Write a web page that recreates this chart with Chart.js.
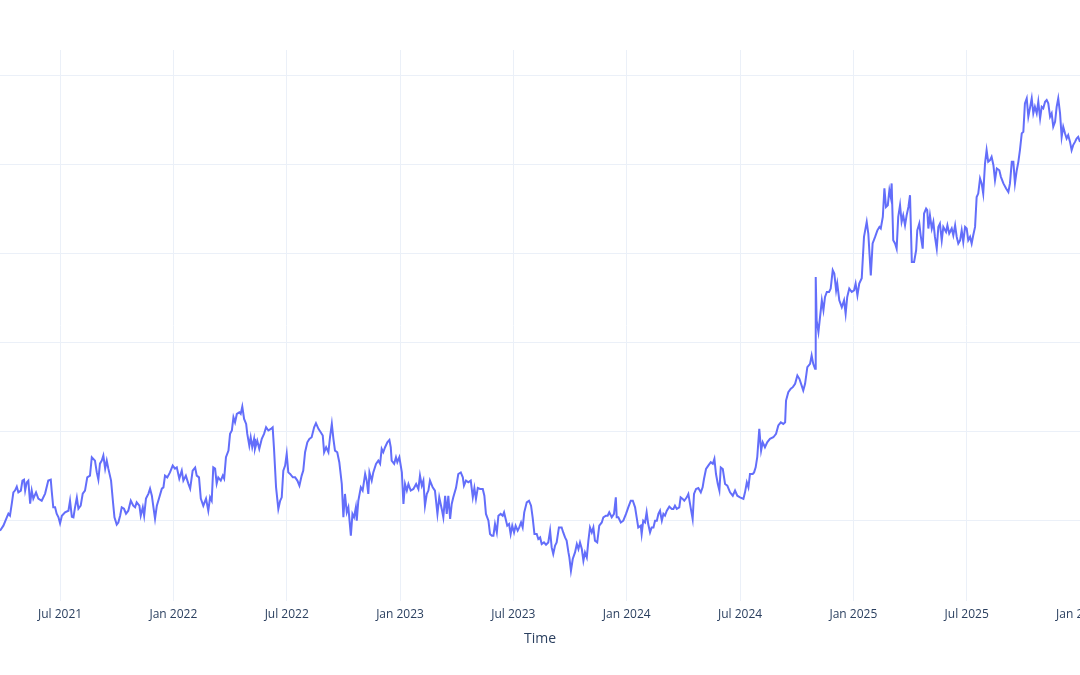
<!DOCTYPE html>
<html>
<head>
<meta charset="utf-8">
<script src="https://cdn.jsdelivr.net/npm/chart.js@4"></script>
<style>
    html, body { margin: 0; padding: 0; background: #ffffff; overflow: hidden; }
    #wrap { position: relative; width: 1080px; height: 675px; overflow: hidden; }
    #chart { position: absolute; left: -100px; top: 0; }
</style>
</head>
<body>
<div id="wrap"><canvas id="chart" width="1280" height="675"></canvas></div>
<script>
// time in decimal years
const years = [
    2021.235, 2021.250, 2021.265, 2021.272, 2021.279, 2021.287, 2021.294, 2021.301, 2021.309, 2021.316,
    2021.327, 2021.334, 2021.341, 2021.346, 2021.353, 2021.360, 2021.368, 2021.375, 2021.382, 2021.394,
    2021.404, 2021.419, 2021.434, 2021.448, 2021.459, 2021.463, 2021.470, 2021.478, 2021.485, 2021.493,
    2021.500, 2021.508, 2021.522, 2021.537, 2021.544, 2021.552, 2021.559, 2021.566, 2021.574, 2021.581,
    2021.591, 2021.600, 2021.610, 2021.620, 2021.632, 2021.640, 2021.654, 2021.662, 2021.669, 2021.676,
    2021.684, 2021.691, 2021.699, 2021.706, 2021.713, 2021.725, 2021.733, 2021.740, 2021.750, 2021.757,
    2021.765, 2021.772, 2021.782, 2021.791, 2021.801, 2021.812, 2021.823, 2021.831, 2021.838, 2021.850,
    2021.856, 2021.865, 2021.871, 2021.879, 2021.890, 2021.897, 2021.905, 2021.912, 2021.919, 2021.927,
    2021.938, 2021.949, 2021.956, 2021.963, 2021.973, 2021.985, 2021.997, 2022.007, 2022.015, 2022.026,
    2022.037, 2022.044, 2022.055, 2022.066, 2022.074, 2022.085, 2022.096, 2022.103, 2022.113, 2022.121,
    2022.132, 2022.144, 2022.154, 2022.162, 2022.169, 2022.176, 2022.184, 2022.191, 2022.198, 2022.209,
    2022.218, 2022.224, 2022.232, 2022.243, 2022.250, 2022.258, 2022.265, 2022.272, 2022.280, 2022.291,
    2022.297, 2022.304, 2022.312, 2022.321, 2022.326, 2022.335, 2022.341, 2022.348, 2022.356, 2022.360,
    2022.370, 2022.379, 2022.390, 2022.400, 2022.409, 2022.419, 2022.430, 2022.438, 2022.444, 2022.453,
    2022.463, 2022.471, 2022.478, 2022.485, 2022.493, 2022.500, 2022.507, 2022.515, 2022.527, 2022.537,
    2022.547, 2022.556, 2022.566, 2022.573, 2022.581, 2022.591, 2022.600, 2022.610, 2022.621, 2022.629,
    2022.640, 2022.650, 2022.659, 2022.665, 2022.674, 2022.684, 2022.691, 2022.699, 2022.706, 2022.713,
    2022.723, 2022.732, 2022.743, 2022.750, 2022.757, 2022.765, 2022.772, 2022.783, 2022.790, 2022.797,
    2022.805, 2022.809, 2022.816, 2022.827, 2022.835, 2022.846, 2022.853, 2022.860, 2022.865, 2022.875,
    2022.882, 2022.894, 2022.904, 2022.912, 2022.919, 2022.926, 2022.934, 2022.944, 2022.953, 2022.959,
    2022.963, 2022.974, 2022.982, 2022.988, 2022.997, 2023.008, 2023.015, 2023.022, 2023.030, 2023.037,
    2023.047, 2023.059, 2023.071, 2023.081, 2023.088, 2023.096, 2023.103, 2023.110, 2023.118, 2023.125,
    2023.132, 2023.144, 2023.154, 2023.165, 2023.173, 2023.184, 2023.191, 2023.199, 2023.206, 2023.213,
    2023.221, 2023.228, 2023.235, 2023.247, 2023.257, 2023.268, 2023.277, 2023.282, 2023.291, 2023.301,
    2023.312, 2023.321, 2023.328, 2023.335, 2023.343, 2023.353, 2023.365, 2023.372, 2023.379, 2023.390,
    2023.397, 2023.405, 2023.412, 2023.419, 2023.427, 2023.434, 2023.444, 2023.453, 2023.459, 2023.466,
    2023.473, 2023.481, 2023.488, 2023.495, 2023.503, 2023.510, 2023.519, 2023.526, 2023.534, 2023.541,
    2023.548, 2023.559, 2023.569, 2023.578, 2023.585, 2023.593, 2023.603, 2023.610, 2023.618, 2023.625,
    2023.635, 2023.644, 2023.654, 2023.662, 2023.669, 2023.676, 2023.684, 2023.691, 2023.701, 2023.713,
    2023.720, 2023.728, 2023.735, 2023.743, 2023.747, 2023.754, 2023.762, 2023.772, 2023.780, 2023.787,
    2023.794, 2023.802, 2023.809, 2023.816, 2023.824, 2023.831, 2023.838, 2023.846, 2023.853, 2023.860,
    2023.870, 2023.879, 2023.890, 2023.897, 2023.908, 2023.916, 2023.923, 2023.934, 2023.944, 2023.952,
    2023.956, 2023.963, 2023.974, 2023.985, 2023.997, 2024.007, 2024.018, 2024.027, 2024.037, 2024.044,
    2024.051, 2024.062, 2024.066, 2024.073, 2024.081, 2024.088, 2024.095, 2024.103, 2024.110, 2024.118,
    2024.125, 2024.133, 2024.140, 2024.147, 2024.155, 2024.162, 2024.169, 2024.177, 2024.188, 2024.199,
    2024.206, 2024.213, 2024.221, 2024.232, 2024.238, 2024.247, 2024.254, 2024.265, 2024.272, 2024.282,
    2024.291, 2024.297, 2024.306, 2024.316, 2024.327, 2024.335, 2024.341, 2024.350, 2024.360, 2024.371,
    2024.380, 2024.387, 2024.394, 2024.402, 2024.409, 2024.415, 2024.424, 2024.434, 2024.444, 2024.456,
    2024.468, 2024.478, 2024.488, 2024.500, 2024.515, 2024.522, 2024.530, 2024.537, 2024.544, 2024.556,
    2024.562, 2024.569, 2024.576, 2024.585, 2024.593, 2024.600, 2024.610, 2024.620, 2024.632, 2024.647,
    2024.659, 2024.669, 2024.680, 2024.691, 2024.699, 2024.703, 2024.713, 2024.724, 2024.733, 2024.743,
    2024.753, 2024.762, 2024.772, 2024.779, 2024.787, 2024.797, 2024.809, 2024.816, 2024.823, 2024.831,
    2024.834, 2024.838, 2024.846, 2024.853, 2024.861, 2024.868, 2024.875, 2024.883, 2024.893, 2024.900,
    2024.909, 2024.916, 2024.924, 2024.929, 2024.938, 2024.949, 2024.959, 2024.966, 2024.973, 2024.982,
    2024.993, 2025.003, 2025.010, 2025.018, 2025.026, 2025.037, 2025.047, 2025.059, 2025.066, 2025.077,
    2025.085, 2025.096, 2025.106, 2025.115, 2025.121, 2025.130, 2025.137, 2025.144, 2025.152, 2025.159,
    2025.165, 2025.169, 2025.176, 2025.184, 2025.191, 2025.198, 2025.206, 2025.213, 2025.220, 2025.228,
    2025.235, 2025.243, 2025.250, 2025.258, 2025.268, 2025.277, 2025.282, 2025.291, 2025.297, 2025.306,
    2025.312, 2025.321, 2025.326, 2025.331, 2025.338, 2025.346, 2025.353, 2025.360, 2025.368, 2025.375,
    2025.382, 2025.390, 2025.397, 2025.409, 2025.415, 2025.423, 2025.434, 2025.441, 2025.449, 2025.456,
    2025.463, 2025.471, 2025.478, 2025.485, 2025.493, 2025.500, 2025.507, 2025.515, 2025.522, 2025.529,
    2025.537, 2025.544, 2025.551, 2025.559, 2025.566, 2025.573, 2025.581, 2025.588, 2025.595, 2025.603,
    2025.610, 2025.618, 2025.625, 2025.633, 2025.644, 2025.651, 2025.662, 2025.674, 2025.684, 2025.691,
    2025.699, 2025.706, 2025.713, 2025.721, 2025.728, 2025.735, 2025.743, 2025.750, 2025.757, 2025.765,
    2025.772, 2025.779, 2025.787, 2025.794, 2025.801, 2025.809, 2025.816, 2025.824, 2025.831, 2025.838,
    2025.846, 2025.853, 2025.860, 2025.868, 2025.875, 2025.882, 2025.890, 2025.897, 2025.904, 2025.912,
    2025.919, 2025.926, 2025.934, 2025.941, 2025.948, 2025.956, 2025.963, 2025.970, 2025.978, 2025.985, 2025.992, 2026.000
];

const values = [
    94.4, 97.2, 101.9, 103.9, 102.8, 109.6, 115.9, 116.9, 119.1, 115.9,
    116.9, 122.5, 123.0, 116.9, 121.5, 122.5, 109.6, 116.9, 112.4, 115.9,
    112.4, 111.2, 115.2, 122.5, 123.0, 116.9, 107.5, 107.5, 103.9, 101.9,
    98.5, 102.8, 104.7, 105.6, 111.2, 102.2, 101.9, 107.5, 112.9, 106.7,
    108.4, 115.2, 116.9, 124.3, 125.3, 135.6, 133.7, 127.1, 123.0, 132.0,
    133.7, 136.5, 129.2, 133.7, 129.2, 122.5, 111.2, 101.9, 97.8, 99.0,
    102.8, 107.5, 106.7, 103.9, 105.6, 111.2, 108.4, 107.5, 110.3, 108.4,
    102.8, 107.5, 102.8, 112.4, 115.2, 118.0, 114.0, 107.5, 101.1, 108.4,
    113.1, 118.0, 118.7, 125.3, 124.3, 127.1, 130.9, 129.2, 129.9, 123.6,
    128.1, 122.5, 125.3, 120.8, 118.0, 128.1, 129.8, 125.3, 124.3, 112.4,
    108.4, 112.4, 105.6, 113.1, 111.2, 129.9, 129.2, 120.8, 124.3, 122.5,
    125.3, 123.6, 135.6, 139.3, 148.7, 150.6, 158.0, 155.2, 159.9, 160.8,
    159.9, 164.0, 157.1, 154.3, 148.7, 142.1, 146.8, 141.2, 145.9, 140.3,
    144.9, 140.3, 145.9, 148.7, 152.4, 150.6, 151.5, 152.4, 140.3, 118.7,
    106.6, 111.2, 113.1, 128.1, 130.9, 137.5, 127.1, 126.2, 124.3, 124.3,
    122.5, 119.7, 125.3, 128.1, 138.4, 144.0, 145.9, 146.8, 152.4, 154.7,
    151.5, 149.6, 147.8, 138.4, 141.2, 138.4, 146.8, 154.3, 145.9, 139.3,
    138.4, 132.8, 120.6, 101.9, 115.0, 104.7, 107.5, 91.6, 103.8, 101.9,
    107.5, 100.0, 111.2, 118.7, 116.9, 126.2, 122.5, 115.0, 127.1, 122.5,
    127.1, 131.9, 133.7, 131.9, 140.3, 138.4, 141.2, 144.0, 145.3, 141.2,
    133.7, 131.9, 135.6, 132.8, 135.6, 127.1, 109.4, 120.6, 116.9, 120.6,
    116.9, 117.8, 120.6, 117.8, 125.3, 119.7, 122.5, 108.4, 115.0, 116.9,
    122.5, 118.7, 116.9, 103.8, 113.1, 106.6, 101.9, 114.0, 103.8, 114.0,
    101.0, 109.4, 113.1, 118.4, 126.2, 127.1, 124.3, 119.7, 122.5, 121.5,
    122.5, 113.1, 118.4, 112.2, 118.4, 117.8, 117.8, 114.0, 103.8, 100.0,
    92.5, 91.6, 91.6, 98.1, 93.4, 102.8, 103.8, 102.8, 104.7, 101.0,
    97.2, 98.1, 92.5, 97.2, 93.4, 97.2, 94.4, 96.2, 99.0, 96.2,
    104.7, 110.3, 111.2, 108.4, 101.9, 92.5, 92.5, 89.7, 90.6, 86.9,
    87.8, 86.5, 87.8, 94.4, 85.0, 81.3, 86.0, 87.8, 96.2, 96.2,
    93.4, 90.6, 88.8, 82.2, 79.4, 71.9, 78.5, 82.2, 86.9, 84.1,
    87.8, 84.1, 77.5, 82.2, 79.4, 88.8, 96.2, 93.4, 96.2, 88.8,
    87.8, 97.2, 99.0, 101.9, 102.8, 102.8, 104.7, 101.9, 103.8, 113.1,
    101.9, 101.9, 99.0, 100.0, 103.8, 107.5, 111.2, 111.2, 107.5, 101.9,
    96.2, 97.2, 92.5, 100.0, 99.0, 104.7, 98.1, 93.4, 96.2, 96.2,
    100.0, 100.0, 103.8, 105.6, 100.0, 103.8, 102.8, 105.6, 107.9, 106.6,
    106.6, 108.4, 106.6, 107.5, 113.1, 112.2, 111.2, 113.1, 115.0, 107.5,
    101.0, 115.0, 117.8, 118.3, 115.9, 118.7, 123.4, 129.0, 130.9, 132.8,
    131.9, 134.7, 126.2, 120.6, 116.9, 129.9, 129.0, 120.6, 119.7, 115.9,
    114.0, 116.9, 114.0, 113.1, 112.2, 115.9, 121.5, 118.7, 126.2, 126.2,
    127.1, 129.9, 135.6, 151.5, 139.3, 144.0, 141.2, 144.0, 145.9, 146.8,
    148.7, 153.4, 155.2, 154.3, 155.2, 167.4, 172.1, 174.0, 174.9, 176.8,
    181.5, 179.6, 175.8, 173.0, 176.8, 186.1, 188.0, 192.7, 188.0, 185.2,
    236.7, 212.4, 205.8, 214.2, 223.6, 218.0, 225.5, 228.3, 228.3, 230.2,
    240.5, 238.6, 229.2, 233.0, 223.6, 219.8, 223.6, 216.1, 225.5, 230.2,
    228.3, 229.2, 233.0, 226.4, 233.0, 236.0, 259.2, 267.6, 261.1, 237.6,
    255.5, 259.2, 262.9, 264.8, 263.9, 270.4, 286.4, 276.0, 277.0, 285.4,
    281.6, 289.2, 257.3, 255.5, 252.6, 270.4, 277.0, 267.6, 271.3, 265.7,
    271.3, 276.0, 282.6, 245.1, 245.1, 251.7, 262.9, 266.7, 260.1, 252.6,
    272.3, 275.1, 274.2, 263.9, 271.3, 263.9, 267.6, 259.2, 252.6, 264.8,
    266.7, 257.3, 264.8, 262.0, 265.7, 261.1, 263.9, 260.1, 265.7, 259.2,
    255.5, 257.3, 262.9, 256.4, 264.8, 263.9, 257.3, 259.2, 255.5, 260.1,
    264.8, 281.6, 283.5, 292.0, 289.2, 283.5, 300.4, 307.9, 301.3, 302.2,
    304.1, 299.4, 291.0, 297.6, 296.6, 292.9, 289.2, 286.4, 284.4, 289.2,
    301.3, 301.3, 289.2, 296.6, 301.3, 307.9, 317.3, 318.2, 334.1, 336.9,
    326.6, 331.3, 336.9, 328.5, 332.2, 328.5, 335.0, 325.7, 332.2, 331.3,
    335.0, 336.0, 334.1, 326.6, 328.5, 321.0, 323.8, 332.2, 336.9, 328.5,
    315.3, 321.0, 317.2, 314.4, 316.3, 312.5, 307.9, 310.7, 312.5, 314.4, 315.3, 312.5
];

const xTickValues = [2021.5, 2022.0, 2022.5, 2023.0, 2023.5, 2024.0, 2024.5, 2025.0, 2025.5, 2026.0];
const xTickLabels = ['Jul 2021', 'Jan 2022', 'Jul 2022', 'Jan 2023', 'Jul 2023', 'Jan 2024', 'Jul 2024', 'Jan 2025', 'Jul 2025', 'Jan 2026'];
const yTickValues = [100, 150, 200, 250, 300, 350];

const fontFamily = '"Open Sans", "DejaVu Sans", sans-serif';
const gridColor = '#EBF0F8';
const textColor = '#2a3f5f';

const points = years.map((t, i) => ({ x: t, y: values[i] }));

new Chart(document.getElementById('chart'), {
    type: 'line',
    data: {
        datasets: [
            {
                label: 'Value',
                data: points,
                borderColor: '#636EFA',
                borderWidth: 2,
                pointRadius: 0,
                tension: 0,
                fill: false
            }
        ]
    },
    options: {
        responsive: false,
        animation: false,
        events: [],
        layout: { padding: { left: 100, right: 100, top: 50, bottom: 28 } },
        plugins: {
            legend: { display: false },
            tooltip: { enabled: false }
        },
        scales: {
            x: {
                type: 'linear',
                min: 2021.235,
                max: 2026.0,
                afterBuildTicks: (axis) => {
                    axis.ticks = xTickValues.map((v) => ({ value: v }));
                },
                ticks: {
                    autoSkip: false,
                    maxRotation: 0,
                    padding: 7,
                    color: textColor,
                    font: { family: fontFamily, size: 12 },
                    callback: (value) => {
                        const idx = xTickValues.indexOf(value);
                        return idx >= 0 ? xTickLabels[idx] : '';
                    }
                },
                grid: { color: gridColor, lineWidth: 1, drawTicks: false },
                border: { display: false },
                title: {
                    display: true,
                    text: 'Time',
                    color: textColor,
                    font: { family: fontFamily, size: 14 },
                    padding: { top: 1, bottom: 0 }
                }
            },
            y: {
                type: 'linear',
                min: 55.06,
                max: 364.05,
                afterBuildTicks: (axis) => {
                    axis.ticks = yTickValues.map((v) => ({ value: v }));
                },
                ticks: { display: false },
                grid: { color: gridColor, lineWidth: 1, drawTicks: false },
                border: { display: false }
            }
        }
    }
});
</script>
</body>
</html>
